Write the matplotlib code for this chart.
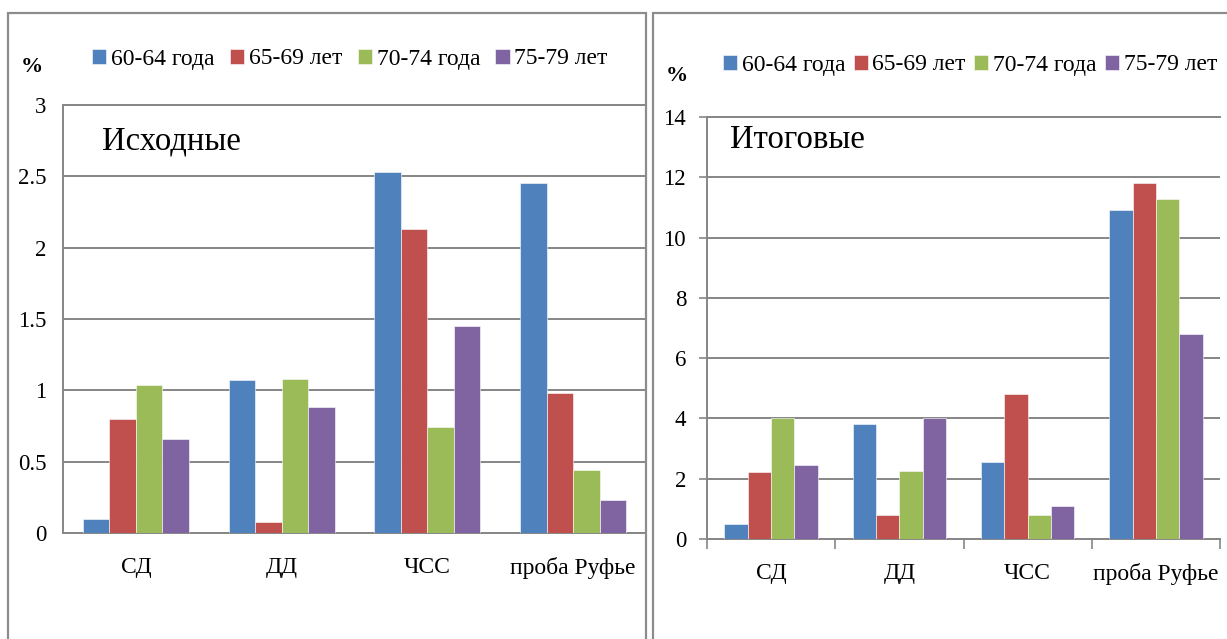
import matplotlib
matplotlib.use("Agg")
import matplotlib.pyplot as plt
from matplotlib.patches import Rectangle
import numpy as np

plt.rcParams['font.family'] = ['Liberation Serif', 'DejaVu Serif']

categories = ["СД", "ДД", "ЧСС", "проба Руфье"]
series_names = ["60-64 года", "65-69 лет", "70-74 года", "75-79 лет"]
colors = ["#4F81BD", "#C0504D", "#9BBB59", "#8064A2"]

# Исходные (initial)
initial = [
    [0.10, 1.07, 2.53, 2.45],   # 60-64
    [0.80, 0.08, 2.13, 0.98],   # 65-69
    [1.04, 1.08, 0.74, 0.44],   # 70-74
    [0.66, 0.88, 1.45, 0.23],   # 75-79
]
# Итоговые (final)
final = [
    [0.51, 3.80, 2.54, 10.93],
    [2.22, 0.80, 4.81, 11.82],
    [4.01, 2.27, 0.78, 11.29],
    [2.44, 4.01, 1.11, 6.79],
]
left_ticks = [0, 0.5, 1, 1.5, 2, 2.5, 3]
left_ticklabels = ["0", "0.5", "1", "1.5", "2", "2.5", "3"]
right_ticks = [0, 2, 4, 6, 8, 10, 12, 14]

W, H = 1227, 639
fig = plt.figure(figsize=(W / 100, H / 100), dpi=100)

def fx(px):
    return px / W

def fy(py):
    return 1 - py / H

grid_c = "#868686"
fs = 16.5

# outer panel borders
fig.patches.append(Rectangle((fx(8), fy(700)), fx(646 - 8), fy(13) - fy(700),
                             transform=fig.transFigure, fill=False,
                             edgecolor="#8c8c8c", lw=1.6))
fig.patches.append(Rectangle((fx(653), fy(700)), fx(1300 - 653), fy(13) - fy(700),
                             transform=fig.transFigure, fill=False,
                             edgecolor="#8c8c8c", lw=1.6))


def draw(ax, data, ticks, labels, ymax, title, title_px, ticks_out):
    n = len(categories)
    w = 1 / 5.5
    x = np.arange(n)
    for j, (vals, c, name) in enumerate(zip(data, colors, series_names)):
        ax.bar(x + (j - 1.5) * w, vals, width=w, color=c, edgecolor="white",
               linewidth=0.4, label=name, zorder=3)
    ax.set_xlim(-0.5, n - 0.5)
    ax.set_ylim(0, ymax)
    ax.set_yticks(ticks)
    ax.set_yticklabels(labels, fontsize=fs)
    ax.yaxis.grid(True, color=grid_c, lw=1.4, zorder=0)
    ax.set_axisbelow(True)
    for s in ["left", "bottom", "top"]:
        ax.spines[s].set_color(grid_c)
        ax.spines[s].set_linewidth(1.4)
    ax.spines["right"].set_visible(False)
    if ticks_out:
        ax.set_xticks(np.arange(-0.5, n, 1.0))
        ax.set_xticklabels([])
        ax.set_xticks(x, minor=True)
        ax.set_xticklabels(categories, minor=True, fontsize=fs + 0.5)
        ax.tick_params(axis="x", which="major", length=7, color=grid_c, width=1.2)
        ax.tick_params(axis="x", which="minor", length=0, pad=17)
        ax.tick_params(axis="y", length=6, color=grid_c, width=1.2, pad=9)
    else:
        ax.set_xticks(x)
        ax.set_xticklabels(categories, fontsize=fs + 0.5)
        ax.tick_params(axis="x", length=0, pad=17)
        ax.tick_params(axis="y", length=0, pad=12)
    fig.text(fx(title_px[0]), fy(title_px[1]), title, fontsize=23.5,
             va="center", ha="left")


ax1 = fig.add_axes([fx(63), fy(533), fx(646 - 63), fy(105) - fy(533)])
draw(ax1, initial, left_ticks, left_ticklabels, 3, "Исходные", (102, 141), False)

ax2 = fig.add_axes([fx(707), fy(539), fx(1220 - 707), fy(117) - fy(539)])
draw(ax2, final, right_ticks, [str(t) for t in right_ticks], 14, "Итоговые", (730, 140), True)

for ax, cx, cy, cs in [(ax1, 350, 59, 0.65), (ax2, 970, 65, 0.35)]:
    ax.legend(loc="center", bbox_to_anchor=(fx(cx), fy(cy)),
              bbox_transform=fig.transFigure, ncol=4, frameon=False,
              fontsize=17, handlelength=0.6, handleheight=0.6,
              handletextpad=0.2, columnspacing=cs)

fig.text(fx(32), fy(67), "%", fontsize=16, fontweight="bold", ha="center", va="center")
fig.text(fx(677), fy(76), "%", fontsize=16, fontweight="bold", ha="center", va="center")

fig.savefig("out.png", dpi=100)
